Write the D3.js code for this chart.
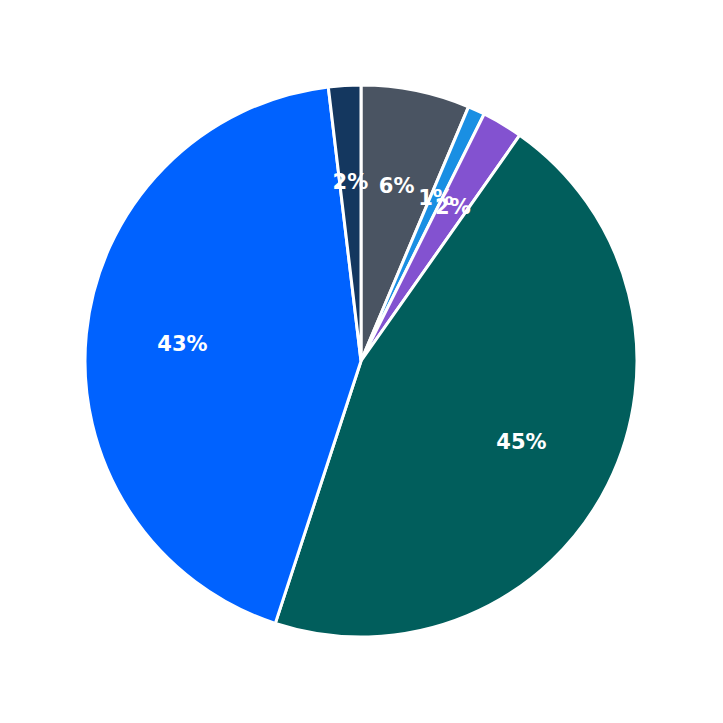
<!DOCTYPE html>
<html><head><meta charset="utf-8">
<script src="https://cdn.jsdelivr.net/npm/d3@7"></script>
<style>body{margin:0;background:#fff}</style>
</head><body><div id="chart"></div>
<script>
const categories = ["A", "B", "C", "D", "E", "F"];
const values = [6.4, 1.0, 2.4, 45.5, 43.3, 1.9];
const colors = ["#4a5462", "#1a8fe3", "#8352d0", "#015e5c", "#0062ff", "#14375f"];

const width = 723, height = 723, radius = 276;
const svg = d3.select("#chart").append("svg")
    .attr("width", width).attr("height", height)
    .append("g")
    .attr("transform", "translate(361,361)");

const data = categories.map((c, i) => ({c, v: values[i], col: colors[i]}));
const total = d3.sum(values);
const pie = d3.pie().sort(null).value(d => d.v);
const arc = d3.arc().innerRadius(0).outerRadius(radius);
const labelArc = d3.arc().innerRadius(radius * 0.65).outerRadius(radius * 0.65);

const arcs = pie(data);

svg.selectAll("path").data(arcs).join("path")
    .attr("d", arc)
    .style("fill", d => d.data.col)
    .style("stroke", "#fff")
    .style("stroke-width", "3px");

svg.selectAll("text").data(arcs).join("text")
    .attr("transform", d => "translate(" + labelArc.centroid(d) + ")")
    .attr("text-anchor", "middle")
    .attr("dy", "0.35em")
    .style("font-family", "DejaVu Sans, sans-serif")
    .style("font-weight", "bold")
    .style("font-size", "21px")
    .style("fill", "#fff")
    .text(d => Math.round(d.data.v / total * 100) + "%");
</script></body></html>
